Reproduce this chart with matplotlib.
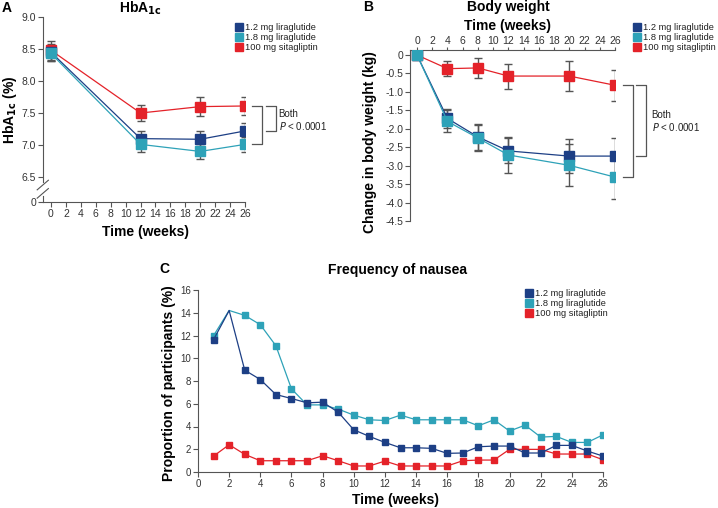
import matplotlib
matplotlib.use('Agg')
import matplotlib.pyplot as plt
from matplotlib.lines import Line2D

plt.rcParams['font.family'] = ['Liberation Sans', 'DejaVu Sans']
plt.rcParams['axes.unicode_minus'] = False

W, H = 718, 508

series_names = ['1.2 mg liraglutide', '1.8 mg liraglutide', '100 mg sitagliptin']
series_colors = ['#1d3f85', '#2ea2b8', '#e42229']
axis_gray = '#555555'

# A: HbA1c
hba_weeks = [0, 12, 20, 26]
hba_lira12 = [8.45, 7.10, 7.09, 7.22]
hba_lira12_err = [0.13, 0.12, 0.13, 0.12]
hba_lira18 = [8.43, 7.01, 6.90, 7.01]
hba_lira18_err = [0.11, 0.12, 0.12, 0.12]
hba_sita = [8.48, 7.50, 7.60, 7.61]
hba_sita_err = [0.145, 0.125, 0.145, 0.145]
hba_zero_pos = 6.11  # where the "0" of the broken axis sits
hba_yticks = [hba_zero_pos, 6.5, 7.0, 7.5, 8.0, 8.5, 9.0]
hba_yticklabels = ['0', '6.5', '7.0', '7.5', '8.0', '8.5', '9.0']

# B: body weight
bw_weeks = [0, 4, 8, 12, 20, 26]
bw_lira12 = [0, -1.72, -2.22, -2.60, -2.74, -2.74]
bw_lira12_err = [0, 0.27, 0.36, 0.34, 0.45, 0.50]
bw_lira18 = [0, -1.80, -2.25, -2.71, -2.99, -3.31]
bw_lira18_err = [0, 0.30, 0.35, 0.48, 0.57, 0.58]
bw_sita = [0, -0.37, -0.35, -0.57, -0.57, -0.82]
bw_sita_err = [0, 0.21, 0.26, 0.34, 0.40, 0.42]
bw_yticks = [0, -0.5, -1.0, -1.5, -2.0, -2.5, -3.0, -3.5, -4.0, -4.5]
bw_yticklabels = ['0', '-0.5', '-1.0', '-1.5', '-2.0', '-2.5', '-3.0', '-3.5', '-4.0', '-4.5']

week_ticks = list(range(0, 27, 2))

# C: nausea, weeks 1..26
nau_weeks = list(range(1, 27))
nau_lira12 = [11.64, 14.2, 8.95, 8.13, 6.81, 6.46, 6.08, 6.14, 5.26, 3.71, 3.13, 2.60, 2.13,
              2.13, 2.08, 1.64, 1.67, 2.22, 2.28, 2.28, 1.67, 1.67, 2.34, 2.34, 1.84, 1.40]
nau_lira18 = [11.99, 14.2, 13.77, 12.95, 11.10, 7.31, 5.90, 5.90, 5.53, 5.00, 4.59, 4.53, 5.00,
              4.59, 4.59, 4.59, 4.59, 4.06, 4.59, 3.60, 4.12, 3.07, 3.13, 2.60, 2.60, 3.27]
nau_sita = [1.40, 2.40, 1.55, 0.99, 0.99, 0.99, 0.99, 1.43, 0.99, 0.53, 0.53, 0.96, 0.53,
            0.53, 0.53, 0.53, 0.99, 1.05, 1.05, 1.99, 1.99, 1.99, 1.58, 1.58, 1.58, 1.08]
nau_yticks = list(range(0, 17, 2))


def px(x, y):
    return x / W, 1 - y / H


def ax_rect(left, top, right, bottom):
    return [left / W, 1 - bottom / H, (right - left) / W, (bottom - top) / H]


def style_axes(ax, spines, labelsize=7.5):
    for s in ['left', 'right', 'top', 'bottom']:
        ax.spines[s].set_visible(s in spines)
        ax.spines[s].set_color(axis_gray)
        ax.spines[s].set_linewidth(0.8)
    ax.tick_params(direction='out', length=3.5, width=0.8, color=axis_gray,
                   labelsize=labelsize, labelcolor='#333333', pad=1.5)


def draw_series(ax, x, ys, errs, ms, lw):
    # errors first, then lines and markers (red, dark blue, teal)
    order = [2, 0, 1]
    for i in order:
        ax.errorbar(x, ys[i], yerr=errs[i], fmt='none', ecolor=axis_gray,
                    elinewidth=1.0, capsize=3, capthick=1.0, zorder=2)
    for i in order:
        ax.plot(x, ys[i], color=series_colors[i], lw=lw, marker='s', ms=ms,
                mec=series_colors[i], zorder=3 + order.index(i))


def add_legend(ax, x, y, fontsize=6.7):
    handles = [Line2D([], [], ls='none', marker='s', ms=5.2, color=c) for c in series_colors]
    leg = ax.legend(handles, series_names, loc='upper left', bbox_to_anchor=px(x, y),
                    bbox_transform=ax.figure.transFigure, frameon=False,
                    handlelength=0.7, handletextpad=0.25, labelspacing=0.12,
                    borderpad=0, borderaxespad=0, fontsize=fontsize)
    for t in leg.get_texts():
        t.set_color('#222222')


def bracket(ax, x0, x1, y_top, y_bot):
    ax.plot([x0, x1, x1, x0], [y_top, y_top, y_bot, y_bot], color=axis_gray,
            lw=0.9, clip_on=False, zorder=1)


fig = plt.figure(figsize=(W / 100, H / 100), dpi=100)

# ---------------- A ----------------
axA = fig.add_axes(ax_rect(43, 17, 245, 202))
draw_series(axA, hba_weeks, [hba_lira12, hba_lira18, hba_sita],
            [hba_lira12_err, hba_lira18_err, hba_sita_err], ms=6.5, lw=0.9)
axA.set_xlim(-1.07, 26)
axA.set_ylim(hba_zero_pos, 9.0)
axA.set_xticks(week_ticks)
axA.set_yticks(hba_yticks)
axA.set_yticklabels(hba_yticklabels)
style_axes(axA, ['left', 'bottom'])
axA.spines['left'].set_bounds(6.43, 9.0)
# axis break
axA.plot([-1.07, -1.07], [hba_zero_pos, 6.21], color=axis_gray, lw=0.8, clip_on=False)
for y0 in [6.17, 6.30]:
    axA.plot([-1.85, -0.35], [y0, y0 + 0.15], color=axis_gray, lw=0.8, clip_on=False)
bracket(axA, 26.9, 28.3, 7.61, 7.01)
bracket(axA, 28.8, 30.2, 7.61, 7.22)
axA.text(30.5, 7.49, 'Both', fontsize=7, color='#222222', va='center')
axA.text(30.5, 7.29, '$P$ < 0.0001', fontsize=7, color='#222222', va='center')
add_legend(axA, 236, 23)

fig.text(*px(2, 8), 'A', fontsize=10, fontweight='bold', va='center', ha='left')
fig.text(*px(140, 8), 'HbA$_{\\mathbf{1c}}$', fontsize=10, fontweight='bold', ha='center', va='center')
fig.text(*px(10, 110), 'HbA$_{\\mathbf{1c}}$ (%)', fontsize=10, fontweight='bold',
         rotation=90, ha='center', va='center')
fig.text(*px(146, 232), 'Time (weeks)', fontsize=10, fontweight='bold', ha='center', va='center')

# ---------------- B ----------------
axB = fig.add_axes(ax_rect(410, 49.5, 615, 221))
draw_series(axB, bw_weeks, [bw_lira12, bw_lira18, bw_sita],
            [bw_lira12_err, bw_lira18_err, bw_sita_err], ms=6.5, lw=0.9)
axB.set_xlim(-0.92, 26)
axB.set_ylim(-4.5, 0.15)
axB.xaxis.tick_top()
axB.set_xticks(week_ticks)
axB.set_yticks(bw_yticks)
axB.set_yticklabels(bw_yticklabels)
style_axes(axB, ['left', 'top'])
axB.tick_params(axis='x', length=2.2, pad=0.5)
bracket(axB, 27.0, 28.3, -0.82, -3.31)
bracket(axB, 28.8, 30.1, -0.82, -2.74)
axB.text(30.8, -1.63, 'Both', fontsize=7, color='#222222', va='center')
axB.text(30.8, -1.96, '$P$ < 0.0001', fontsize=7, color='#222222', va='center')
add_legend(axB, 634, 23)

fig.text(*px(363, 7), 'B', fontsize=10, fontweight='bold', va='center', ha='left')
fig.text(*px(508, 7), 'Body weight', fontsize=10, fontweight='bold', ha='center', va='center')
fig.text(*px(508, 26), 'Time (weeks)', fontsize=10, fontweight='bold', ha='center', va='center')
fig.text(*px(370, 142), 'Change in body weight (kg)', fontsize=10, fontweight='bold',
         rotation=90, ha='center', va='center')

# ---------------- C ----------------
axC = fig.add_axes(ax_rect(198, 290, 603, 472))
lira_marks = [0] + list(range(2, 26))  # no marker at week 2 for liraglutide
axC.plot(nau_weeks, nau_sita, color=series_colors[2], lw=0.9, marker='s', ms=5, zorder=3)
axC.plot(nau_weeks, nau_lira18, color=series_colors[1], lw=0.9, marker='s', ms=5, zorder=4,
         markevery=lira_marks)
axC.plot(nau_weeks, nau_lira12, color=series_colors[0], lw=0.9, marker='s', ms=5, zorder=5,
         markevery=lira_marks)
axC.set_xlim(0, 26)
axC.set_ylim(0, 16)
axC.set_xticks(week_ticks)
axC.set_yticks(nau_yticks)
style_axes(axC, ['left', 'bottom'], labelsize=7)
add_legend(axC, 526, 289)

fig.text(*px(164, 269), 'C', fontsize=10, fontweight='bold', va='center', ha='center')
fig.text(*px(397, 270), 'Frequency of nausea', fontsize=10, fontweight='bold',
         ha='center', va='center')
fig.text(*px(169, 383), 'Proportion of participants (%)', fontsize=10, fontweight='bold',
         rotation=90, ha='center', va='center')
fig.text(*px(396, 500), 'Time (weeks)', fontsize=10, fontweight='bold', ha='center',
         va='center')

fig.savefig('out.png', dpi=100)
